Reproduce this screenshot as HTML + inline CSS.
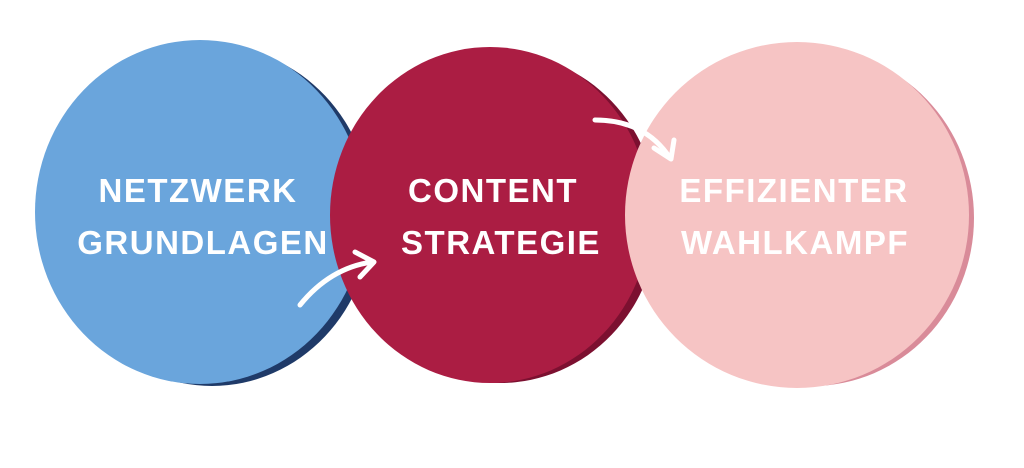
<!DOCTYPE html>
<html><head><style>
html,body{margin:0;padding:0;background:#fff;}
body{width:1024px;height:468px;overflow:hidden;}
svg{display:block}
text{font-family:"Liberation Sans",sans-serif;font-weight:bold;fill:#fff;font-size:33px;text-anchor:middle;letter-spacing:1.5px}
</style></head><body>
<svg width="1024" height="468" viewBox="0 0 1024 468">
<ellipse cx="212" cy="216" rx="160" ry="170" fill="#1f3a68"/>
<ellipse cx="200" cy="212" rx="165" ry="172" fill="#6aa5dc"/>
<ellipse cx="500" cy="218" rx="158" ry="165" fill="#7c1030"/>
<ellipse cx="490" cy="215" rx="160" ry="168" fill="#ab1d43"/>
<ellipse cx="812" cy="218" rx="162" ry="168" fill="#d98b99"/>
<ellipse cx="797" cy="215" rx="172" ry="173" fill="#f6c4c4"/>
<text x="198" y="202">NETZWERK</text>
<text x="203" y="254">GRUNDLAGEN</text>
<text x="493" y="202">CONTENT</text>
<text x="501" y="254">STRATEGIE</text>
<text x="794" y="202">EFFIZIENTER</text>
<text x="795" y="254">WAHLKAMPF</text>
<g fill="none" stroke="#fff" stroke-width="5" stroke-linecap="round" stroke-linejoin="round">
<path d="M300 305 Q330 268 372 262"/>
<path d="M355 252 L374 262 L360 277"/>
<path d="M595 120 Q645 120 670 158"/>
<path d="M654 148 L671 159 L674 140"/>
</g>
</svg>
</body></html>
